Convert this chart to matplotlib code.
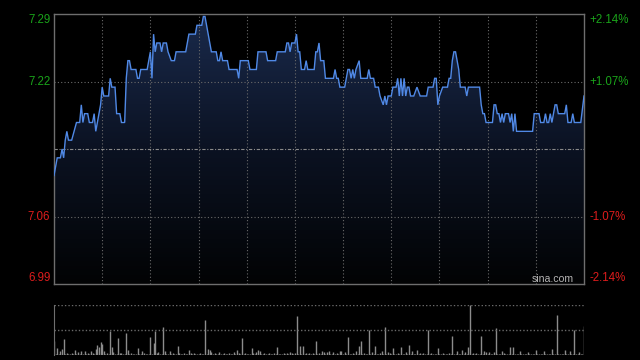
import numpy as np
import matplotlib
matplotlib.use("Agg")
import matplotlib.pyplot as plt
from matplotlib.colors import LinearSegmentedColormap
from matplotlib.patches import Polygon
from matplotlib.transforms import blended_transform_factory

# ---------------- data ----------------
prev_close = 7.14
pct_levels = [2.14, 1.07, -1.07, -2.14]
left_labels = ["7.29", "7.22", "7.06", "6.99"]
right_labels = ["+2.14%", "+1.07%", "-1.07%", "-2.14%"]

# minute index of the session (0 .. 330) and price at that minute
t_min = [0, 2, 4, 5, 6, 7, 8, 9, 11, 14, 16, 17, 18, 19, 21, 22, 24, 25, 26, 28,
         29, 30, 31, 34, 35, 36, 38, 39, 41, 42, 44, 45, 46, 47, 48, 51, 52, 53, 54, 58,
         60, 61, 62, 63, 64, 66, 67, 68, 70, 71, 73, 75, 76, 82, 84, 88, 89, 92, 93, 94,
         96, 98, 101, 102, 103, 104, 105, 108, 109, 114, 115, 116, 121, 122, 126, 127, 132, 133, 138, 139,
         144, 145, 146, 147, 148, 150, 151, 152, 153, 154, 156, 157, 158, 162, 163, 164, 165, 166, 168, 169,
         174, 175, 176, 177, 178, 181, 183, 184, 185, 186, 187, 188, 190, 191, 195, 196, 197, 199, 200, 202,
         203, 205, 206, 207, 208, 210, 211, 213, 214, 215, 216, 217, 218, 219, 220, 221, 222, 224, 226, 228,
         232, 233, 236, 237, 238, 239, 240, 242, 245, 246, 247, 248, 249, 250, 251, 252, 253, 256, 257, 258,
         265, 266, 267, 268, 269, 273, 274, 275, 276, 277, 278, 279, 280, 281, 283, 284, 285, 286, 287, 288,
         298, 299, 302, 303, 305, 306, 307, 308, 309, 310, 311, 312, 313, 314, 318, 319, 320, 322, 323, 324,
         328, 330]
price = [7.11, 7.13, 7.13, 7.14, 7.13, 7.15, 7.16, 7.15, 7.15, 7.17, 7.17, 7.19, 7.17, 7.18, 7.18, 7.17, 7.17, 7.18, 7.16, 7.18,
         7.19, 7.21, 7.20, 7.20, 7.22, 7.21, 7.21, 7.18, 7.18, 7.17, 7.17, 7.22, 7.24, 7.24, 7.23, 7.23, 7.22, 7.22, 7.23, 7.23,
         7.25, 7.22, 7.27, 7.25, 7.26, 7.26, 7.25, 7.26, 7.26, 7.25, 7.24, 7.24, 7.25, 7.25, 7.27, 7.27, 7.28, 7.28, 7.29, 7.29,
         7.27, 7.25, 7.25, 7.24, 7.24, 7.25, 7.24, 7.24, 7.23, 7.23, 7.22, 7.24, 7.24, 7.23, 7.23, 7.25, 7.25, 7.24, 7.24, 7.25,
         7.25, 7.26, 7.26, 7.25, 7.26, 7.26, 7.27, 7.25, 7.25, 7.23, 7.23, 7.24, 7.23, 7.23, 7.25, 7.25, 7.26, 7.24, 7.24, 7.22,
         7.22, 7.23, 7.22, 7.22, 7.21, 7.21, 7.23, 7.23, 7.22, 7.23, 7.22, 7.23, 7.24, 7.22, 7.22, 7.23, 7.22, 7.22, 7.21, 7.21,
         7.20, 7.19, 7.20, 7.19, 7.20, 7.20, 7.21, 7.21, 7.22, 7.20, 7.22, 7.20, 7.22, 7.20, 7.21, 7.21, 7.20, 7.20, 7.21, 7.20,
         7.20, 7.21, 7.21, 7.22, 7.22, 7.19, 7.20, 7.21, 7.21, 7.22, 7.22, 7.24, 7.25, 7.25, 7.24, 7.23, 7.21, 7.21, 7.20, 7.21,
         7.21, 7.19, 7.18, 7.18, 7.17, 7.17, 7.19, 7.19, 7.18, 7.18, 7.17, 7.18, 7.17, 7.18, 7.18, 7.17, 7.18, 7.16, 7.18, 7.16,
         7.16, 7.18, 7.18, 7.17, 7.17, 7.18, 7.17, 7.17, 7.18, 7.17, 7.18, 7.19, 7.19, 7.18, 7.18, 7.19, 7.17, 7.17, 7.18, 7.17,
         7.17, 7.20]

# per-minute volume (relative units), minutes 0 .. 330
volume = [14, 1, 7, 1, 4, 6, 16, 1, 2, 1,
          1, 2, 1, 5, 1, 3, 1, 4, 1, 4,
          1, 2, 1, 4, 2, 1, 6, 10, 8, 13,
          11, 4, 1, 2, 1, 24, 8, 3, 1, 1,
          17, 2, 2, 1, 1, 22, 5, 1, 2, 1,
          1, 1, 7, 1, 1, 4, 2, 1, 1, 1,
          18, 1, 12, 24, 2, 3, 1, 1, 28, 4,
          1, 1, 4, 1, 2, 1, 1, 9, 2, 1,
          1, 2, 1, 1, 5, 2, 1, 2, 1, 1,
          1, 2, 1, 1, 35, 1, 6, 5, 3, 1,
          2, 1, 1, 3, 1, 1, 2, 1, 1, 2,
          1, 1, 3, 1, 5, 2, 1, 17, 1, 2,
          1, 1, 1, 7, 2, 1, 3, 5, 4, 1,
          1, 2, 1, 1, 2, 1, 1, 2, 1, 8,
          1, 1, 1, 2, 1, 2, 1, 3, 2, 1,
          2, 39, 1, 9, 1, 9, 1, 2, 1, 2,
          1, 2, 1, 14, 1, 2, 1, 4, 3, 1,
          3, 4, 1, 1, 3, 1, 2, 1, 4, 4,
          1, 3, 1, 18, 1, 1, 2, 1, 4, 1,
          9, 14, 1, 2, 1, 1, 25, 1, 3, 1,
          9, 1, 1, 2, 4, 1, 28, 1, 3, 2,
          1, 7, 1, 1, 2, 1, 8, 1, 1, 3,
          1, 10, 1, 4, 1, 1, 5, 1, 2, 1,
          2, 1, 1, 25, 1, 2, 1, 1, 1, 7,
          1, 1, 2, 1, 1, 1, 2, 1, 19, 1,
          1, 4, 1, 1, 5, 1, 3, 1, 8, 50,
          1, 2, 1, 2, 1, 1, 19, 1, 4, 3,
          1, 3, 1, 1, 3, 27, 1, 1, 1, 4,
          2, 1, 1, 1, 8, 1, 8, 1, 1, 1,
          4, 1, 1, 1, 1, 3, 1, 1, 1, 1,
          5, 1, 1, 1, 1, 4, 1, 1, 1, 1,
          6, 1, 1, 40, 1, 1, 1, 1, 5, 1,
          1, 4, 1, 1, 25, 1, 1, 3, 1, 1,
          29]

grid_minutes = [30, 60, 90, 120, 150, 180, 210, 240, 270, 300]
n_minutes = 330

# ---------------- figure ----------------
plt.rcParams["font.family"] = ["Liberation Sans", "DejaVu Sans"]
GREEN = "#1aa31a"
RED = "#dd1c1c"
SPINE = "#6e6e6e"
GRID = "#6a6a6a"

fig = plt.figure(figsize=(6.4, 3.6), dpi=100, facecolor="black")
ax = fig.add_axes([54 / 640, 76 / 360, 530 / 640, 270 / 360])
ax.set_facecolor("black")

levels = [prev_close * (1 + p / 100) for p in pct_levels]
hi, lo = levels[0], levels[-1]
ax.set_xlim(0, n_minutes)
ax.set_ylim(lo, hi)

# gradient fill under the line
grad = np.linspace(1, 0, 256).reshape(-1, 1)
cmap = LinearSegmentedColormap.from_list("fill", ["#020304", "#0b1222", "#1a2a4c"])
im = ax.imshow(grad, extent=[0, n_minutes, lo, hi], aspect="auto", cmap=cmap,
               origin="upper", zorder=1, interpolation="bilinear")
poly = Polygon(list(zip(t_min, price)) + [(t_min[-1], lo), (t_min[0], lo)],
               closed=True, transform=ax.transData, facecolor="none", edgecolor="none")
ax.add_patch(poly)
im.set_clip_path(poly)

# grid
for gm in grid_minutes:
    ax.axvline(gm, color=GRID, ls=(0, (1, 2)), lw=0.8, zorder=2)
for lv in (levels[1], levels[2]):
    ax.axhline(lv, color=GRID, ls=(0, (1, 2)), lw=0.8, zorder=2)
ax.axhline(prev_close, color="#8a8a8a", ls=(0, (3, 1.5, 1, 1.5)), lw=0.8, zorder=2)

ax.plot(t_min, price, color="#5089e6", lw=1.0, zorder=3, solid_joinstyle="miter")

for s in ax.spines.values():
    s.set_color(SPINE)
    s.set_linewidth(1)
ax.set_xticks([])
ax.set_yticks([])

tr = blended_transform_factory(ax.transAxes, ax.transData)
vas = ["top", "center", "center", "bottom"]
cols = [GREEN, GREEN, RED, RED]
for lv, ll, rl, va, c in zip(levels, left_labels, right_labels, vas, cols):
    ax.text(-0.007, lv, ll, transform=tr, ha="right", va=va, color=c, fontsize=8.3)
    ax.text(1.011, lv, rl, transform=tr, ha="left", va=va, color=c, fontsize=8.3)

ax.text(0.98, 0.0, "sina.com", transform=ax.transAxes, ha="right", va="bottom",
        color="#b4b4b4", fontsize=7.6, zorder=4)

# volume panel
vax = fig.add_axes([54 / 640, 5 / 360, 530 / 640, 50 / 360])
vax.set_facecolor("black")
vmax = max(volume)
vax.set_xlim(0, n_minutes)
vax.set_ylim(0, vmax)
vax.vlines(np.arange(len(volume)), 0, volume, color="#8c8c8c", lw=1)
vax.axhline(vmax, color=GRID, ls=(0, (1, 1.5)), lw=1)
vax.axhline(vmax / 2, color=GRID, ls=(0, (1, 1.5)), lw=1)
for k, s in vax.spines.items():
    s.set_visible(k == "left")
    s.set_color(SPINE)
vax.set_xticks([])
vax.set_yticks([])

fig.savefig("out.png", dpi=100, facecolor="black")
